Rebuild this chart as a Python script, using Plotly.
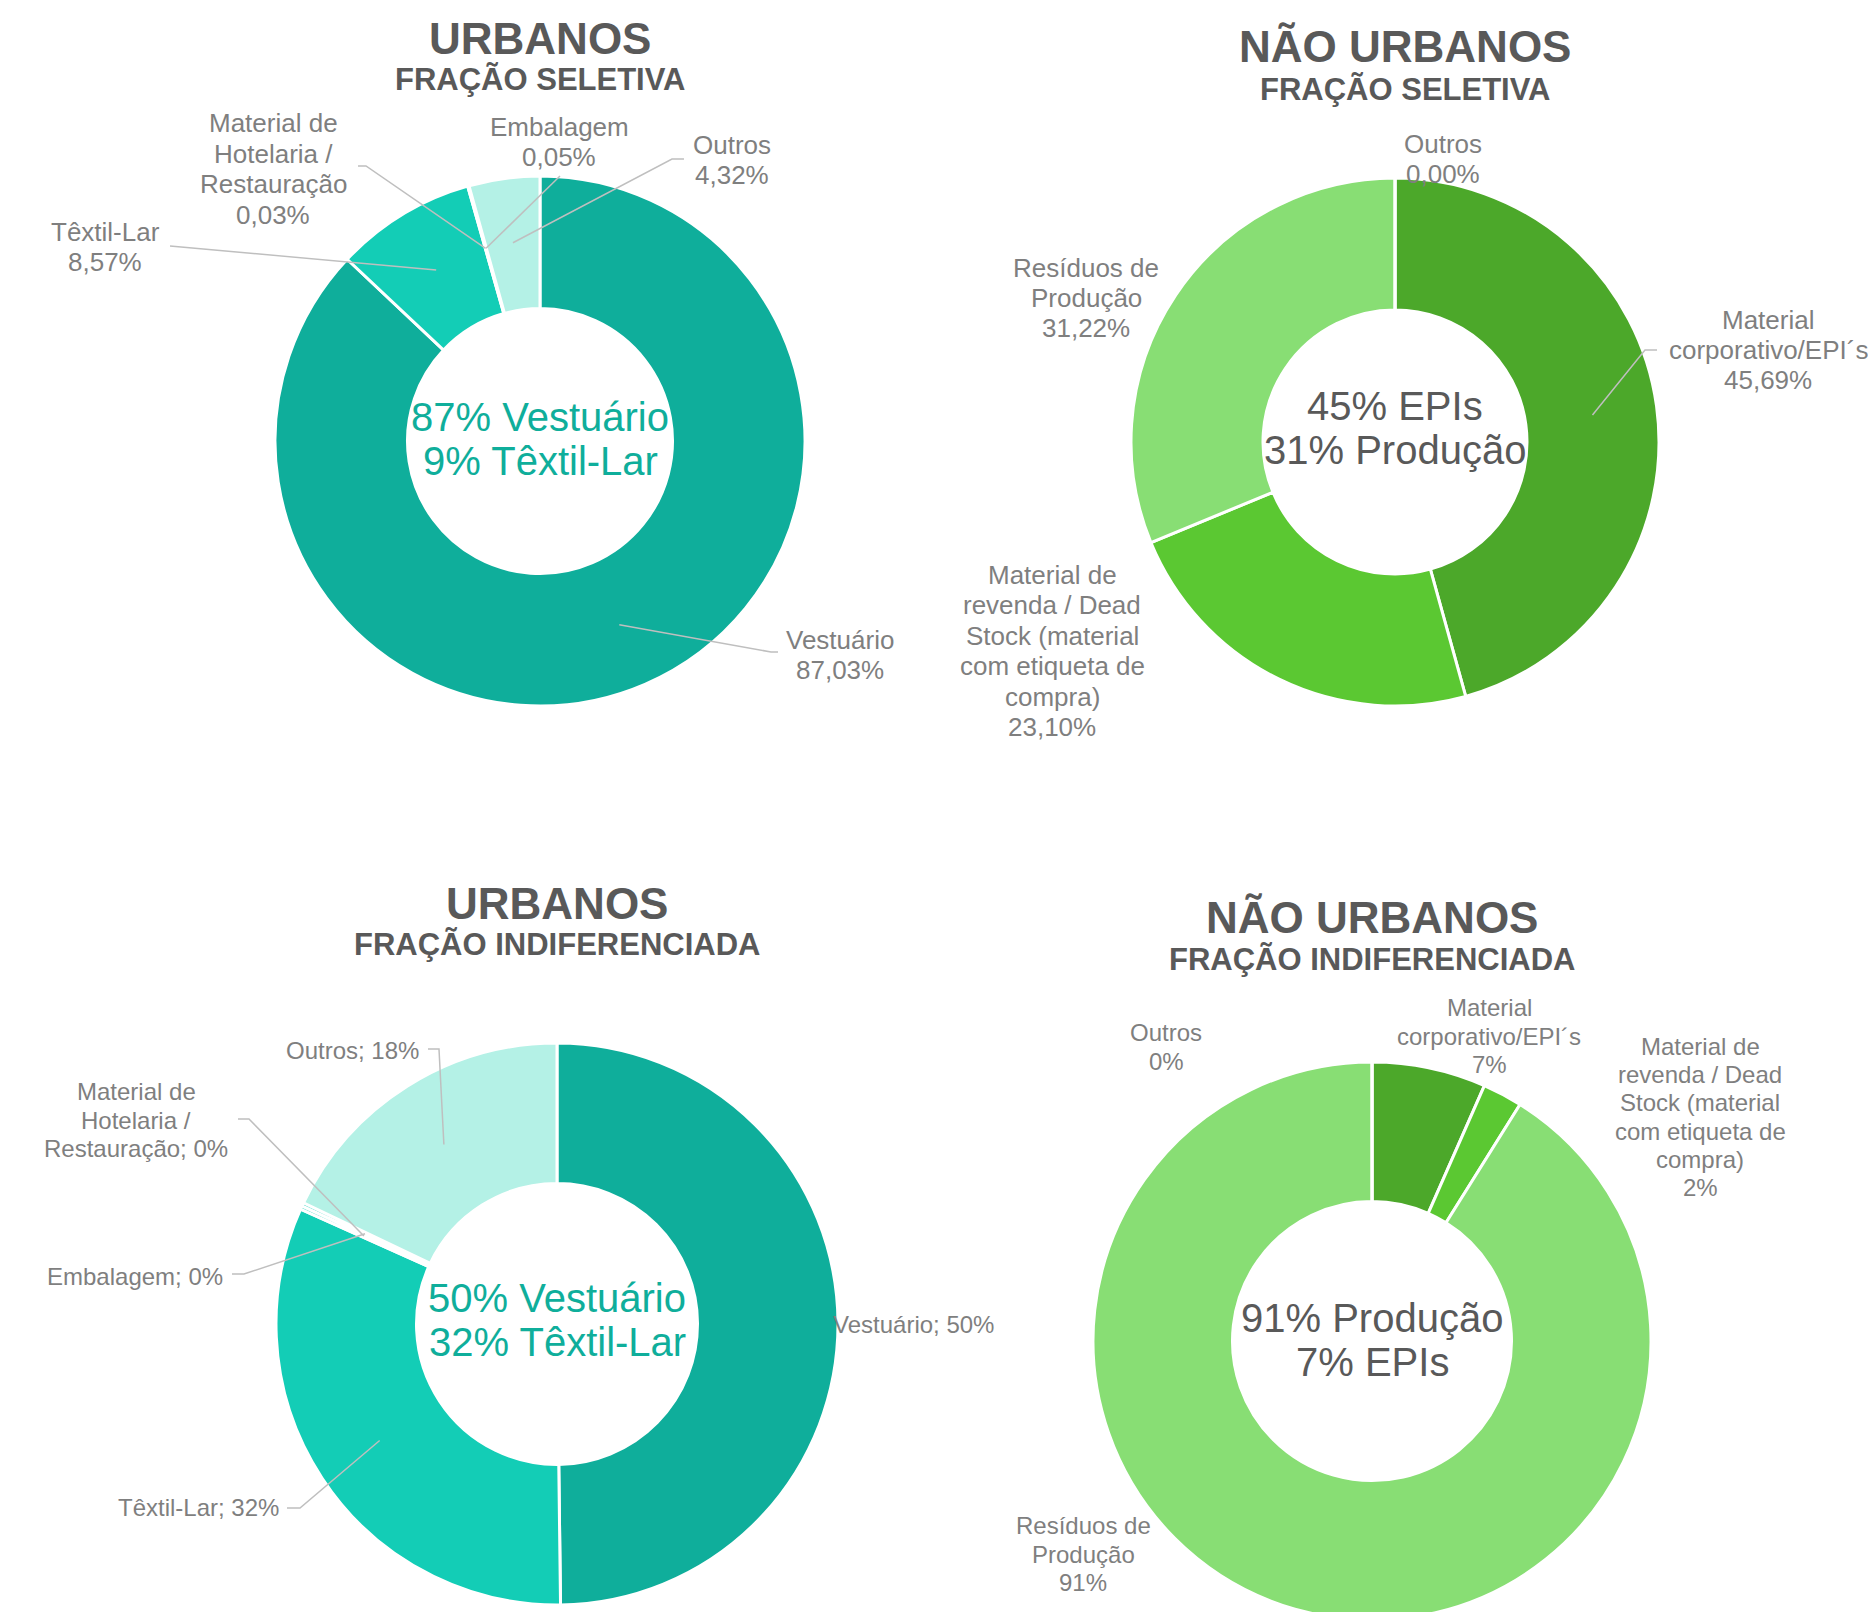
import math
import plotly.graph_objects as go

W, H = 1876, 1612
OFF = 8  # margem padrão do <body> na página gerada

# categorias
urb_cats = ["Vestuário", "Têxtil-Lar", "Material de Hotelaria / Restauração", "Embalagem", "Outros"]
nurb_cats = ["Material corporativo/EPI´s",
             "Material de revenda / Dead Stock (material com etiqueta de compra)",
             "Resíduos de Produção", "Outros"]

# valores (%)
urb_sel = [87.03, 8.57, 0.03, 0.05, 4.32]
nurb_sel = [45.69, 23.10, 31.22, 0.00]
urb_ind = [49.8, 31.9, 0.2, 0.2, 17.9]
nurb_ind = [6.6, 2.3, 91.1, 0.0]

# rótulos quebrados em linhas, como no gráfico original
urb_wrap = [["Vestuário"], ["Têxtil-Lar"], ["Material de", "Hotelaria /", "Restauração"],
            ["Embalagem"], ["Outros"]]
nurb_wrap = [["Material", "corporativo/EPI´s"],
             ["Material de", "revenda / Dead", "Stock (material", "com etiqueta de", "compra)"],
             ["Resíduos de", "Produção"], ["Outros"]]

urb_colors = ["#0FAE9B", "#13CDB6", "#3FD8C5", "#2AD2BE", "#B4F1E6"]
nurb_colors = ["#4CA82A", "#5BC832", "#88DE74", "#A9E89B"]

TITLE_C = "#595959"
LABEL_C = "#7F7F7F"
LINE_C = "#BFBFBF"
TEAL_TXT = "#0FAE9B"
FONT = "Liberation Sans, Arial, sans-serif"


def pct(v, dec):
    return f"{v:.{dec}f}".replace(".", ",") + "%"


def to_paper(x, y):
    return (x - OFF) / W, 1 - (y - OFF) / H


def domain(cx, cy, r):
    cx, cy = cx - OFF, cy - OFF
    return dict(x=[max(0, (cx - r) / W), min(1, (cx + r) / W)],
                y=[max(0, 1 - (cy + r) / H), min(1, 1 - (cy - r) / H)])


def anchor(values, i, cx, cy, r, frac=0.755):
    tot = sum(values)
    mid = (sum(values[:i]) + values[i] / 2) / tot * 2 * math.pi
    return cx + frac * r * math.sin(mid), cy - frac * r * math.cos(mid)


fig = go.Figure()
annotations = []
shapes = []


def text_block(lines, cx, cy, size, color, bold=False, spacing=1.17):
    n = len(lines)
    for k, line in enumerate(lines):
        y = cy + (k - (n - 1) / 2) * size * spacing
        px, py = to_paper(cx, y)
        annotations.append(dict(
            x=px, y=py, xref="paper", yref="paper", xanchor="center", yanchor="middle",
            text=f"<b>{line}</b>" if bold else line, showarrow=False,
            font=dict(family=FONT, size=size, color=color)))


def leader(points):
    pts = [to_paper(x, y) for x, y in points]
    path = "M " + " L ".join(f"{x:.5f} {y:.5f}" for x, y in pts)
    shapes.append(dict(type="path", path=path, xref="paper", yref="paper",
                       line=dict(color=LINE_C, width=1.5)))


def donut(cats, values, colors, cx, cy, r):
    fig.add_trace(go.Pie(
        labels=cats, values=values, sort=False, direction="clockwise", rotation=0,
        hole=0.5, domain=domain(cx, cy, r), textinfo="none", showlegend=False,
        marker=dict(colors=colors, line=dict(color="white", width=3))))


# ---------- URBANOS / FRAÇÃO SELETIVA ----------
cx, cy, r = 540, 441, 265
donut(urb_cats, urb_sel, urb_colors, cx, cy, r)
text_block(["URBANOS"], 540, 38, 44, TITLE_C, bold=True)
text_block(["FRAÇÃO SELETIVA"], 540, 80, 31, TITLE_C, bold=True)
text_block(["87% Vestuário", "9% Têxtil-Lar"], cx, 439, 40, TEAL_TXT, spacing=1.12)
pos1 = [(840, 655), (105, 247), (273, 169), (559, 142), (732, 160)]
lead1 = [[(778, 652), (771, 652)], [(170, 246)], [(358, 166), (366, 166)],
         [(560, 176)], [(684, 159), (672, 159)]]
for i, wrap in enumerate(urb_wrap):
    text_block(wrap + [pct(urb_sel[i], 2)], *pos1[i], 26, LABEL_C)
    leader(lead1[i] + [anchor(urb_sel, i, cx, cy, r)])

# ---------- NÃO URBANOS / FRAÇÃO SELETIVA ----------
cx, cy, r = 1395, 442, 264
donut(nurb_cats, nurb_sel, nurb_colors, cx, cy, r)
text_block(["NÃO URBANOS"], 1405, 47, 44, TITLE_C, bold=True)
text_block(["FRAÇÃO SELETIVA"], 1405, 89, 31, TITLE_C, bold=True)
text_block(["45% EPIs", "31% Produção"], cx, 428, 40, TITLE_C, spacing=1.1)
pos2 = [(1768, 350), (1052, 651), (1086, 298), (1443, 159)]
for i, wrap in enumerate(nurb_wrap):
    text_block(wrap + [pct(nurb_sel[i], 2)], *pos2[i], 26, LABEL_C)
leader([(1657, 350), (1645, 350), anchor(nurb_sel, 0, cx, cy, r)])

# ---------- URBANOS / FRAÇÃO INDIFERENCIADA ----------
cx, cy, r = 557, 1324, 281
donut(urb_cats, urb_ind, urb_colors, cx, cy, r)
text_block(["URBANOS"], 557, 903, 44, TITLE_C, bold=True)
text_block(["FRAÇÃO INDIFERENCIADA"], 557, 945, 31, TITLE_C, bold=True)
text_block(["50% Vestuário", "32% Têxtil-Lar"], cx, 1320, 40, TEAL_TXT, spacing=1.08)
pos3 = [(913, 1324), (198, 1507), (136, 1120), (135, 1276), (352, 1050)]
lead3 = [None, [(287, 1508), (300, 1508)], [(238, 1119), (249, 1119)],
         [(232, 1274), (244, 1274)], [(428, 1049), (439, 1049)]]
for i, wrap in enumerate(urb_wrap):
    lines = wrap[:-1] + [f"{wrap[-1]}; {urb_ind[i]:.0f}%"]
    text_block(lines, *pos3[i], 24, LABEL_C)
    if lead3[i]:
        leader(lead3[i] + [anchor(urb_ind, i, cx, cy, r)])

# ---------- NÃO URBANOS / FRAÇÃO INDIFERENCIADA ----------
cx, cy, r = 1372, 1341, 279
donut(nurb_cats, nurb_ind, nurb_colors, cx, cy, r)
text_block(["NÃO URBANOS"], 1372, 917, 44, TITLE_C, bold=True)
text_block(["FRAÇÃO INDIFERENCIADA"], 1372, 959, 31, TITLE_C, bold=True)
text_block(["91% Produção", "7% EPIs"], cx, 1340, 40, TITLE_C, spacing=1.08)
pos4 = [(1489, 1036), (1700, 1117), (1083, 1554), (1166, 1047)]
for i, wrap in enumerate(nurb_wrap):
    text_block(wrap + [f"{nurb_ind[i]:.0f}%"], *pos4[i], 24, LABEL_C)

fig.update_layout(
    width=W, height=H, margin=dict(l=0, r=0, t=0, b=0),
    paper_bgcolor="white", plot_bgcolor="white",
    font=dict(family=FONT, color=LABEL_C),
    annotations=annotations, shapes=shapes, showlegend=False,
)
fig.write_html("out.html")
